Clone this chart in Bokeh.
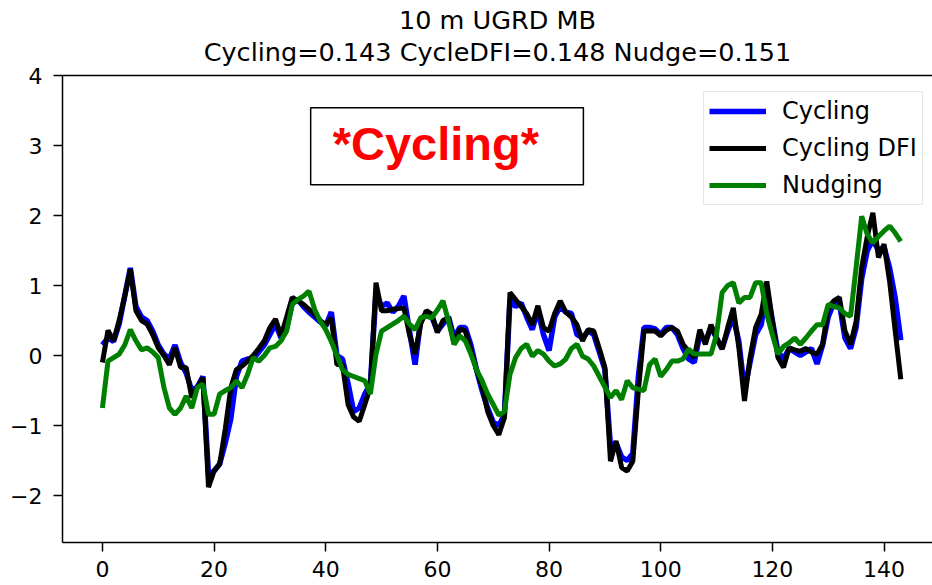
from bokeh.plotting import figure
from bokeh.models import (Range1d, LinearAxis, Title, Legend, LegendItem, Label,
                          BoxAnnotation, FixedTicker, ColumnDataSource)
from bokeh.embed import file_html
from bokeh.resources import INLINE

# ---------------- data ----------------
hours = list(range(144))

cycling = [
    0.15, 0.25, 0.20, 0.45, 0.85, 1.25, 0.70, 0.55, 0.50, 0.35,
    0.15, 0.02, -0.05, 0.15, -0.10, -0.25, -0.50, -0.45, -0.30, -1.70,
    -1.65, -1.55, -1.25, -0.90, -0.30, -0.08, -0.05, -0.05, 0.05, 0.15,
    0.30, 0.45, 0.25, 0.40, 0.75, 0.80, 0.70, 0.62, 0.55, 0.48,
    0.42, 0.62, 0.00, -0.05, -0.40, -0.80, -0.75, -0.55, -0.40, 0.90,
    0.70, 0.75, 0.62, 0.70, 0.85, 0.35, -0.13, 0.50, 0.60, 0.55,
    0.35, 0.45, 0.55, 0.25, 0.40, 0.40, 0.15, -0.20, -0.50, -0.75,
    -0.95, -1.00, -0.85, 0.80, 0.70, 0.75, 0.55, 0.37, 0.65, 0.30,
    0.07, 0.55, 0.70, 0.62, 0.60, 0.30, 0.25, 0.35, 0.30, 0.05,
    -0.20, -1.30, -1.25, -1.45, -1.50, -1.40, -0.30, 0.40, 0.40, 0.38,
    0.30, 0.40, 0.40, 0.30, 0.10, -0.05, -0.10, 0.30, 0.20, 0.40,
    0.25, 0.10, 0.35, 0.55, 0.20, -0.50, -0.10, 0.30, 0.44, 0.95,
    0.50, 0.05, -0.05, 0.10, 0.05, 0.00, 0.05, 0.10, -0.12, 0.15,
    0.55, 0.75, 0.75, 0.25, 0.10, 0.40, 1.10, 1.50, 1.65, 1.50,
    1.55, 1.25, 0.82, 0.22,
]

cycling_dfi = [
    -0.10, 0.36, 0.21, 0.50, 0.85, 1.23, 0.64, 0.50, 0.45, 0.30,
    0.11, 0.00, -0.13, 0.11, -0.17, -0.17, -0.60, -0.45, -0.32, -1.88,
    -1.65, -1.55, -1.05, -0.46, -0.20, -0.15, -0.08, 0.00, 0.10, 0.21,
    0.40, 0.52, 0.28, 0.55, 0.83, 0.78, 0.73, 0.66, 0.59, 0.50,
    0.44, 0.54, -0.13, -0.13, -0.70, -0.88, -0.94, -0.70, -0.45, 1.04,
    0.64, 0.64, 0.66, 0.67, 0.68, 0.30, 0.02, 0.45, 0.64, 0.59,
    0.33, 0.50, 0.54, 0.16, 0.38, 0.35, 0.07, -0.20, -0.45, -0.80,
    -1.00, -1.13, -0.89, 0.90, 0.80, 0.70, 0.60, 0.44, 0.71, 0.40,
    0.35, 0.60, 0.78, 0.62, 0.55, 0.44, 0.21, 0.37, 0.35, 0.10,
    -0.17, -1.51, -1.22, -1.60, -1.65, -1.51, -0.50, 0.35, 0.35, 0.35,
    0.28, 0.36, 0.40, 0.35, 0.16, 0.06, -0.03, 0.37, 0.16, 0.44,
    0.25, 0.09, 0.40, 0.68, 0.11, -0.65, -0.03, 0.40, 0.59, 1.06,
    0.49, -0.03, -0.17, 0.11, 0.08, 0.06, 0.10, 0.05, 0.02, 0.16,
    0.68, 0.78, 0.83, 0.35, 0.16, 0.49, 1.26, 1.70, 2.04, 1.40,
    1.59, 1.06, 0.35, -0.34,
]

nudging = [
    -0.75, -0.08, -0.03, 0.02, 0.15, 0.37, 0.21, 0.08, 0.11, 0.05,
    -0.03, -0.45, -0.75, -0.84, -0.75, -0.58, -0.75, -0.46, -0.41, -0.84,
    -0.84, -0.55, -0.50, -0.46, -0.36, -0.46, -0.27, -0.03, -0.08, 0.00,
    0.11, 0.13, 0.21, 0.35, 0.73, 0.80, 0.85, 0.92, 0.66, 0.49,
    0.37, 0.20, 0.00, -0.20, -0.27, -0.30, -0.33, -0.36, -0.55, 0.02,
    0.35, 0.40, 0.45, 0.50, 0.56, 0.45, 0.37, 0.54, 0.56, 0.54,
    0.65, 0.78, 0.49, 0.16, 0.28, 0.21, 0.02, -0.20, -0.36, -0.55,
    -0.70, -0.85, -0.80, -0.27, -0.03, 0.10, 0.16, -0.01, 0.07, 0.02,
    -0.08, -0.15, -0.12, -0.05, 0.10, 0.16, -0.01, -0.05, -0.15, -0.30,
    -0.45, -0.60, -0.50, -0.63, -0.36, -0.46, -0.48, -0.50, -0.13, -0.05,
    -0.30, -0.20, -0.08, -0.08, -0.05, 0.09, 0.02, 0.02, 0.02, 0.02,
    0.30, 0.90, 1.00, 1.04, 0.75, 0.83, 0.83, 1.04, 1.04, 0.59,
    0.30, 0.02, 0.13, 0.18, 0.25, 0.16, 0.25, 0.35, 0.44, 0.44,
    0.73, 0.70, 0.68, 0.60, 0.56, 1.26, 1.99, 1.73, 1.61, 1.70,
    1.78, 1.85, 1.75, 1.63,
]

series_names = ["Cycling", "Cycling DFI", "Nudging"]
series_colors = ["#0000ff", "#000000", "#008000"]
x_ticks = [0, 20, 40, 60, 80, 100, 120, 140]
y_ticks = [-2, -1, 0, 1, 2, 3, 4]

title_line1 = "10 m UGRD MB"
title_line2 = "Cycling=0.143 CycleDFI=0.148 Nudge=0.151"
box_text = "*Cycling*"

FONT = "DejaVu Sans"

p = figure(width=932, height=585, output_backend="svg", toolbar_location=None,
           x_range=Range1d(-7.15, 148.68), y_range=Range1d(-2.671, 4.0),
           min_border_left=62, min_border_right=0, min_border_top=75,
           min_border_bottom=43, title=None)
p.background_fill_color = "white"
p.border_fill_color = "white"
p.outline_line_color = None
p.xgrid.visible = False
p.ygrid.visible = False

src = ColumnDataSource(dict(x=hours, c=cycling, d=cycling_dfi, n=nudging))
r1 = p.line("x", "c", source=src, line_color=series_colors[0], line_width=5.5)
r2 = p.line("x", "d", source=src, line_color=series_colors[1], line_width=5)
r3 = p.line("x", "n", source=src, line_color=series_colors[2], line_width=5)

for ax in (p.xaxis[0], p.yaxis[0]):
    ax.axis_line_color = "black"
    ax.axis_line_width = 1.5
    ax.major_tick_line_color = "black"
    ax.major_tick_line_width = 1.5
    ax.major_tick_out = 9
    ax.major_tick_in = 0
    ax.minor_tick_line_color = None
    ax.major_label_text_font = FONT
    ax.major_label_text_font_size = "22px"
    ax.major_label_text_color = "black"

p.xaxis[0].ticker = FixedTicker(ticks=x_ticks)
p.xaxis[0].major_label_standoff = 9
p.yaxis[0].ticker = FixedTicker(ticks=y_ticks)
p.yaxis[0].major_label_standoff = 11
p.yaxis[0].major_label_overrides = {t: ("\u2212" + str(-t)) for t in y_ticks if t < 0}

# top spine (with an invisible tick that only reserves some room below the titles)
top = LinearAxis(ticker=FixedTicker(ticks=[0]), axis_line_color="black",
                 axis_line_width=1.5, major_tick_out=9, major_tick_in=0,
                 major_tick_line_color=None,
                 minor_tick_out=0, minor_tick_in=0, minor_tick_line_color=None,
                 major_label_standoff=0, major_label_text_font_size="1px",
                 major_label_text_color=None,
                 major_label_overrides={0: ""})
p.add_layout(top, "above")

p.add_layout(Title(text=title_line2, align="center", text_font=FONT,
                   text_font_size="25.5px", text_font_style="normal",
                   text_color="black", standoff=0), "above")
p.add_layout(Title(text=title_line1, align="center", text_font=FONT,
                   text_font_size="25.5px", text_font_style="normal",
                   text_color="black", standoff=0), "above")

box = BoxAnnotation(left=37.3, right=86.15, top=3.54, bottom=2.44,
                    fill_color="white", fill_alpha=1.0, line_color="black",
                    line_alpha=1.0, line_width=1.5)
p.add_layout(box)
p.add_layout(Label(x=41.25, y=3.03, text=box_text, text_color="#ff0000",
                   text_font="Liberation Sans", text_font_style="bold",
                   text_font_size="47px", text_align="left",
                   text_baseline="alphabetic"))

legend = Legend(items=[LegendItem(label=series_names[0], renderers=[r1]),
                       LegendItem(label=series_names[1], renderers=[r2]),
                       LegendItem(label=series_names[2], renderers=[r3])],
                location=(641, 337), margin=0, padding=5, spacing=9,
                glyph_width=57, glyph_height=28, label_height=28,
                label_standoff=16, label_text_font=FONT,
                label_text_font_size="24px", label_text_color="black",
                border_line_color="#cccccc", border_line_width=1,
                background_fill_color="white", background_fill_alpha=0.8)
p.add_layout(legend)

open("out.html", "w").write(file_html(p, INLINE))
